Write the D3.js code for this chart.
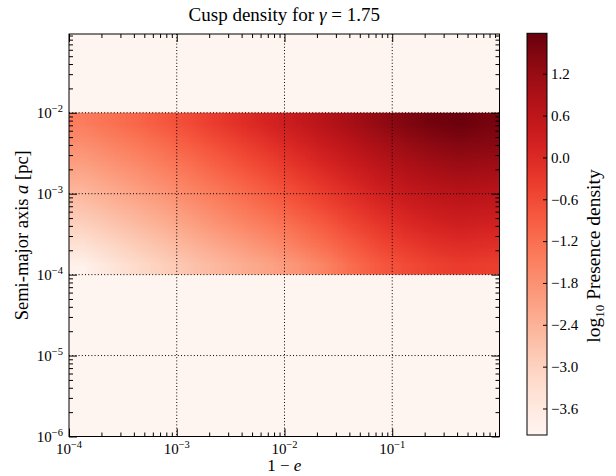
<!DOCTYPE html>
<html>
<head>
<meta charset="utf-8">
<script src="https://cdn.jsdelivr.net/npm/d3@7"></script>
<style>
    body { margin: 0; background: #fff; }
    text { font-family: "Liberation Serif", serif; fill: #000; }
</style>
</head>
<body>
<div id="chart"></div>
<script>
// bin edges, log10(1 - e), left to right
const logOneMinusEEdges = [-4, -3.75, -3.5, -3.25, -3, -2.75, -2.5, -2.25, -2, -1.75, -1.5, -1.25, -1, -0.75, -0.5, -0.25, 0];
// bin edges, log10(a / pc), top to bottom
const logAEdges = [-2, -2.25, -2.5, -2.75, -3, -3.25, -3.5, -3.75, -4];
// log10 presence density, one row per a bin (top row first)
const logDensity = [
    [-1.45, -1.25, -1.05, -0.83, -0.58, -0.33, -0.08, 0.17, 0.44, 0.71, 0.98, 1.25, 1.48, 1.65, 1.75, 1.60],
    [-1.75, -1.55, -1.35, -1.13, -0.88, -0.63, -0.38, -0.13, 0.14, 0.41, 0.68, 0.95, 1.18, 1.35, 1.45, 1.40],
    [-2.05, -1.85, -1.65, -1.43, -1.18, -0.93, -0.68, -0.43, -0.16, 0.11, 0.38, 0.65, 0.88, 1.05, 1.15, 1.10],
    [-2.35, -2.15, -1.95, -1.73, -1.48, -1.23, -0.98, -0.73, -0.46, -0.19, 0.08, 0.35, 0.58, 0.75, 0.85, 0.80],
    [-2.65, -2.45, -2.25, -2.03, -1.78, -1.53, -1.28, -1.03, -0.76, -0.49, -0.22, 0.05, 0.28, 0.45, 0.55, 0.50],
    [-2.98, -2.76, -2.55, -2.33, -2.08, -1.83, -1.60, -1.38, -1.10, -0.82, -0.52, -0.25, -0.02, 0.15, 0.25, 0.20],
    [-3.35, -3.10, -2.87, -2.64, -2.40, -2.18, -1.96, -1.73, -1.45, -1.15, -0.85, -0.55, -0.32, -0.15, -0.05, -0.10],
    [-3.85, -3.50, -3.20, -2.95, -2.70, -2.50, -2.30, -2.10, -1.85, -1.55, -1.15, -0.85, -0.62, -0.45, -0.35, -0.40]
];
const xMajorExp = [-4, -3, -2, -1];
const yMajorExp = [-6, -5, -4, -3, -2];
const cbTicks = [1.2, 0.6, 0.0, -0.6, -1.2, -1.8, -2.4, -3.0, -3.6];
const cbRange = [-3.98, 1.78];

const W = 616, H = 476;
const plot = {l: 69, r: 499.5, t: 34, b: 436.5};
const cb = {l: 527, r: 547, t: 33.3, b: 435};

let svg = d3.select("#chart").append("svg")
    .attr("width", W).attr("height", H);

let x = d3.scaleLog().domain([1e-4, 0.99]).range([plot.l, plot.r]);
let y = d3.scaleLog().domain([1e-6, 0.094]).range([plot.b, plot.t]);
let color = d3.scaleSequential(d3.interpolateReds).domain(cbRange);

let defs = svg.append("defs");
defs.append("clipPath").attr("id", "plotClip")
    .append("rect")
    .attr("x", plot.l).attr("y", plot.t)
    .attr("width", plot.r - plot.l).attr("height", plot.b - plot.t);

//background = lowest colour
svg.append("rect")
    .attr("x", plot.l).attr("y", plot.t)
    .attr("width", plot.r - plot.l).attr("height", plot.b - plot.t)
    .attr("fill", color(cbRange[0]));

//heatmap: one pixel per cell, stretched over the band (smoothed like imshow bilinear)
let nRow = logDensity.length, nCol = logDensity[0].length;
let cnv = document.createElement("canvas");
cnv.width = nCol;
cnv.height = nRow;
let ctx = cnv.getContext("2d");
logDensity.forEach(function(row, i) {
    row.forEach(function(v, j) {
        ctx.fillStyle = color(v);
        ctx.fillRect(j, i, 1, 1);
    });
});
let x0 = x(10 ** logOneMinusEEdges[0]), x1 = x(10 ** logOneMinusEEdges[nCol]);
let y0 = y(10 ** logAEdges[0]), y1 = y(10 ** logAEdges[nRow]);
svg.append("g").attr("clip-path", "url(#plotClip)")
    .append("image")
    .attr("href", cnv.toDataURL())
    .attr("x", x0).attr("y", y0)
    .attr("width", x1 - x0).attr("height", y1 - y0)
    .attr("preserveAspectRatio", "none")
    .style("image-rendering", "auto");

//grid
let xMajor = xMajorExp.map(e => 10 ** e);
let yMajor = yMajorExp.map(e => 10 ** e);
let grid = svg.append("g")
    .attr("stroke", "#000").attr("stroke-width", 1).attr("stroke-dasharray", "1,2.2");
grid.selectAll(".gx").data(xMajor.slice(1)).enter().append("line")
    .attr("x1", d => x(d)).attr("x2", d => x(d))
    .attr("y1", plot.t).attr("y2", plot.b);
grid.selectAll(".gy").data(yMajor.slice(1)).enter().append("line")
    .attr("y1", d => y(d)).attr("y2", d => y(d))
    .attr("x1", plot.l).attr("x2", plot.r);

//ticks on all four sides, pointing in
let xMinor = x.ticks().filter(d => !xMajor.some(m => Math.abs(m - d) / m < 1e-6));
let yMinor = y.ticks().filter(d => !yMajor.some(m => Math.abs(m - d) / m < 1e-6));

function tickAxis(axisFn, scale, values, size, tr) {
    let g = svg.append("g")
        .attr("transform", tr)
        .call(axisFn(scale).tickValues(values).tickSizeInner(-size).tickSizeOuter(0).tickFormat(""));
    g.select(".domain").remove();
    g.selectAll("line").attr("stroke", "#000").attr("stroke-width", 1);
}
tickAxis(d3.axisBottom, x, xMinor, 4, `translate(0,${plot.b})`);
tickAxis(d3.axisBottom, x, xMajor, 8, `translate(0,${plot.b})`);
tickAxis(d3.axisTop, x, xMinor, 4, `translate(0,${plot.t})`);
tickAxis(d3.axisTop, x, xMajor, 8, `translate(0,${plot.t})`);
tickAxis(d3.axisLeft, y, yMinor, 4, `translate(${plot.l},0)`);
tickAxis(d3.axisLeft, y, yMajor, 8, `translate(${plot.l},0)`);
tickAxis(d3.axisRight, y, yMinor, 4, `translate(${plot.r},0)`);
tickAxis(d3.axisRight, y, yMajor, 8, `translate(${plot.r},0)`);

//frame
svg.append("rect")
    .attr("x", plot.l).attr("y", plot.t)
    .attr("width", plot.r - plot.l).attr("height", plot.b - plot.t)
    .attr("fill", "none").attr("stroke", "#000").attr("stroke-width", 1);

//power-of-ten labels
function powLabel(sel, e) {
    sel.append("tspan").text("10");
    sel.append("tspan").attr("font-size", "10.5px").attr("dy", -6).text("\u2212" + Math.abs(e));
}
xMajorExp.forEach(function(e) {
    svg.append("text")
        .attr("x", x(10 ** e)).attr("y", 454)
        .attr("text-anchor", "middle").style("font-size", "15px")
        .call(powLabel, e);
});
yMajorExp.forEach(function(e) {
    svg.append("text")
        .attr("x", 63).attr("y", y(10 ** e) + 5)
        .attr("text-anchor", "end").style("font-size", "15px")
        .call(powLabel, e);
});

//titles
svg.append("text")
    .attr("x", (plot.l + plot.r) / 2).attr("y", 21)
    .attr("text-anchor", "middle").style("font-size", "19px")
    .call(function(t) {
        t.append("tspan").text("Cusp density for ");
        t.append("tspan").style("font-style", "italic").text("\u03b3");
        t.append("tspan").text(" = 1.75");
    });
svg.append("text")
    .attr("x", (plot.l + plot.r) / 2).attr("y", 471)
    .attr("text-anchor", "middle").style("font-size", "17px")
    .call(function(t) {
        t.append("tspan").text("1 \u2212 ");
        t.append("tspan").style("font-style", "italic").text("e");
    });
svg.append("text")
    .attr("transform", `translate(28,${(plot.t + plot.b) / 2}) rotate(-90)`)
    .attr("text-anchor", "middle").style("font-size", "18.5px")
    .call(function(t) {
        t.append("tspan").text("Semi-major axis ");
        t.append("tspan").style("font-style", "italic").text("a");
        t.append("tspan").text(" [pc]");
    });

//colorbar
let cbScale = d3.scaleLinear().domain(cbRange).range([cb.b, cb.t]);
let grad = defs.append("linearGradient").attr("id", "cbGrad")
    .attr("x1", 0).attr("y1", 1).attr("x2", 0).attr("y2", 0);
d3.range(0, 1.0001, 0.05).forEach(function(f) {
    grad.append("stop").attr("offset", f)
        .attr("stop-color", color(cbRange[0] + f * (cbRange[1] - cbRange[0])));
});
svg.append("rect")
    .attr("x", cb.l).attr("y", cb.t)
    .attr("width", cb.r - cb.l).attr("height", cb.b - cb.t)
    .attr("fill", "url(#cbGrad)")
    .attr("stroke", "#000").attr("stroke-width", 1);
let cbAxis = svg.append("g")
    .attr("transform", `translate(${cb.r},0)`)
    .call(d3.axisRight(cbScale).tickValues(cbTicks).tickSizeInner(-4).tickSizeOuter(0)
        .tickPadding(4).tickFormat(d3.format(".1f")));
cbAxis.select(".domain").remove();
cbAxis.selectAll("line").attr("stroke", "#000");
cbAxis.selectAll("text")
    .attr("font-family", null).style("font-size", "15px").attr("dy", "0.32em");

svg.append("text")
    .attr("transform", "translate(600,256) rotate(-90)")
    .attr("text-anchor", "middle").style("font-size", "19.5px")
    .call(function(t) {
        t.append("tspan").text("log");
        t.append("tspan").attr("font-size", "13px").attr("dy", 4).text("10");
        t.append("tspan").attr("dy", -4).text(" Presence density");
    });
</script>
</body>
</html>
